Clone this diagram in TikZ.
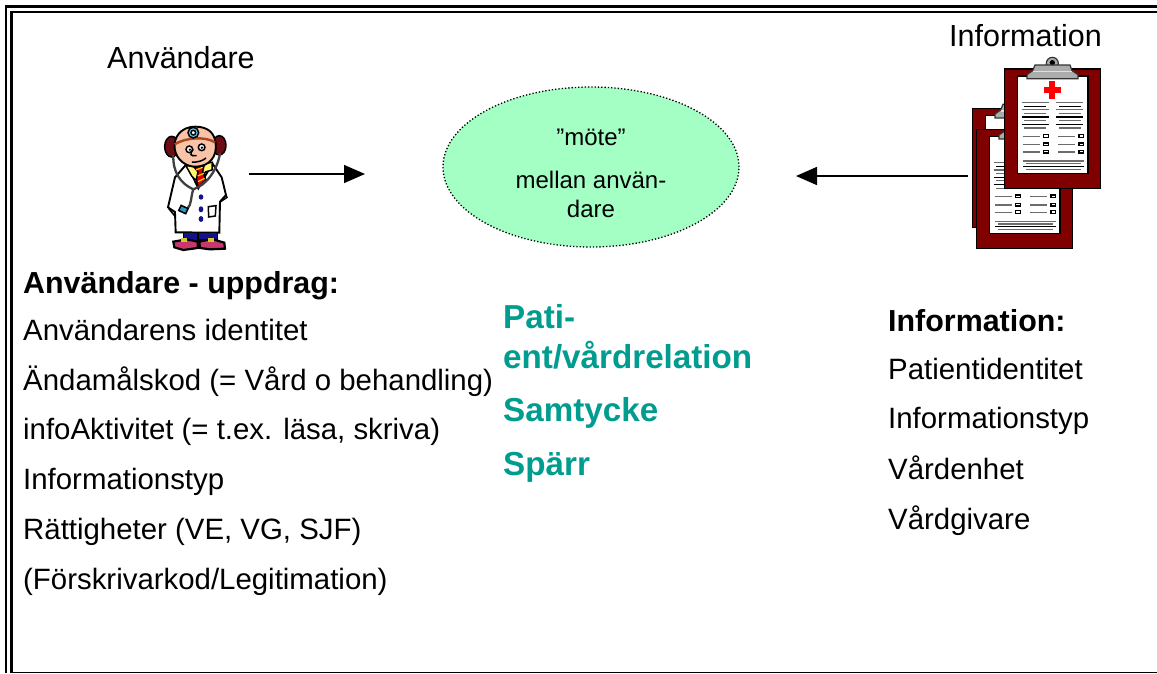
\documentclass[tikz,border=0pt]{standalone}
\usepackage{fontspec}
\setmainfont{Liberation Sans}
\usetikzlibrary{arrows.meta,shapes.geometric}
\definecolor{teal1}{HTML}{009C8F}
\definecolor{mint}{HTML}{A3FFC4}
\definecolor{board}{HTML}{800000}
\definecolor{skin}{HTML}{F9C3A8}
\definecolor{earred}{HTML}{6E0C14}
\definecolor{shoe}{HTML}{C8386E}
\definecolor{band}{HTML}{A8481C}
\definecolor{navy1}{HTML}{12128C}
\tikzset{
 lab/.style={anchor=base west,inner sep=0pt,font=\fontsize{29.4}{32}\selectfont},
 labb/.style={lab,font=\fontsize{30.4}{33}\selectfont\bfseries},
 title/.style={anchor=base west,inner sep=0pt,font=\fontsize{30.5}{33}\selectfont},
 mid/.style={anchor=base,inner sep=0pt,font=\fontsize{24}{26}\selectfont},
 tl/.style={anchor=base west,inner sep=0pt,text=teal1,font=\fontsize{33.2}{36}\selectfont\bfseries},
 conn/.style={draw=black,line width=1.5pt,-{Triangle[length=21pt,width=18pt]}},
 frameline/.style={draw=black,line width=2.4pt},
 gl/.style={draw=gray!85!black,line width=1.4pt},
 kl/.style={draw=black,line width=1.4pt},
 olin/.style={draw=black,line width=1.5pt}
}
\newcommand{\clipboard}[2]{%
 \begin{scope}[shift={(#1,#2)}]
  \filldraw[fill=board,draw=black,line width=1.2pt] (163,87) rectangle (452,445);
  \filldraw[fill=white,draw=black,line width=1.2pt] (203,108) rectangle (414,400);
  \filldraw[fill=gray!65,draw=black!80,line width=1.2pt] (307,70) circle (18);
  \fill[black] (307,68) circle (8);
  \filldraw[fill=gray!65,draw=black!80,line width=1.2pt] (255,75) -- (360,75) -- (366,92) -- (384,104) -- (384,116) -- (231,116) -- (231,104) -- (248,92) -- cycle;
  \fill[gray!25] (248,93) rectangle (366,97);
  \fill[red] (298,124) rectangle (316,176);
  \fill[red] (281,141) rectangle (334,159);
  \foreach \y/\a/\b/\s in {187/215/297/gl,199/223/289/kl,209/215/297/gl,220/223/289/gl,231/215/297/kl,241/223/289/gl,253/215/297/kl,264/223/289/gl}{
    \draw[\s] (\a,\y) -- (\b,\y);
    \draw[\s] (\a+103,\y) -- (\b+103,\y);
  }
  \foreach \y in {289,314,336}{
    \draw[gl] (218,\y) -- (270,\y);
    \draw[gl] (324,\y) -- (376,\y);
    \draw[kl,fill=white] (281,\y-5) rectangle (295,\y+3);
    \draw[kl,fill=white] (387,\y-5) rectangle (401,\y+3);
  }
  \draw[gl] (220,363) -- (403,363);
  \draw[gl] (228,371) -- (394,371);
  \draw[kl] (220,379) -- (403,379);
  \draw[gl] (228,388) -- (394,388);
 \end{scope}}
\begin{document}
\begin{tikzpicture}[x=1pt,y=-1pt]
\useasboundingbox (0,0) rectangle (1157,673);
\fill[white] (0,0) rectangle (1157,673);
% frame
\draw[frameline] (6,673) -- (6,6.5) -- (1157,6.5);
\draw[frameline] (11.5,673) -- (11.5,12) -- (1157,12);
\draw[black,line width=1.4pt] (11.5,672.2) -- (1157,672.2);
% doctor
\begin{scope}[shift={(130,90)},x=0.3333pt,y=-0.3333pt]
  \filldraw[fill=earred,olin] (125,170) ellipse[x radius=21,y radius=31];
  \filldraw[fill=earred,olin] (268,166) ellipse[x radius=20,y radius=29];
  % coat
  \filldraw[fill=skin,olin] (118,358) -- (136,380) -- (140,352) -- cycle;
  \filldraw[fill=skin,olin] (268,338) -- (291,322) -- (284,308) -- cycle;
  \filldraw[fill=white,olin,line width=1.9pt] (170,222) -- (135,262) -- (114,352) -- (135,366) -- (137,427) -- (268,428) -- (270,335) -- (288,315) -- (275,262) -- (247,220) -- (205,295) -- cycle;
  % collar and tie
  \filldraw[fill=yellow!55,olin] (168,228) -- (247,217) -- (246,240) -- (226,246) -- (215,270) -- (195,268) -- (185,258) -- cycle;
  \filldraw[fill=red!85!black,olin] (193,232) -- (222,228) -- (218,245) -- (228,270) -- (205,293) -- (199,268) -- (204,246) -- cycle;
  \draw[yellow!70!orange,line width=1.2pt] (198,240) -- (218,232) (203,258) -- (222,250) (204,275) -- (224,265);
  % head
  \filldraw[fill=skin,olin,line width=1.9pt] (196,110) .. controls (150,110) and (130,145) .. (134,175) .. controls (138,210) and (170,232) .. (200,230) .. controls (238,228) and (262,200) .. (257,160) .. controls (254,130) and (235,110) .. (196,110) -- cycle;
  \draw[draw=band,line width=2.4pt] (134,163) .. controls (165,143) and (225,138) .. (255,157);
  \filldraw[fill=cyan!65,olin] (190,128) circle (16);
  \filldraw[fill=white,olin] (190,128) circle (7);
  \filldraw[fill=white,olin] (178,178) circle (10);
  \filldraw[fill=white,olin] (215,172) circle (10);
  \fill (180,179) circle (4);
  \fill (216,173) circle (4);
  \draw[olin] (190,178) .. controls (176,192) and (182,200) .. (200,197);
  \draw[olin] (186,216) .. controls (200,218) and (220,212) .. (228,204);
  % stethoscope
  \draw[draw=black!75,line width=2.3pt] (130,195) .. controls (128,245) and (150,280) .. (190,298) .. controls (182,320) and (185,345) .. (172,356);
  \draw[draw=black!75,line width=2.3pt] (270,190) .. controls (262,240) and (230,285) .. (190,298);
  \filldraw[fill=cyan!60!teal,olin,rotate around={-25:(160,358)}] (149,350) rectangle (172,367);
  % buttons and pocket
  \fill[navy1] (213,321) ellipse[x radius=7,y radius=8];
  \fill[navy1] (213,358) ellipse[x radius=7,y radius=9];
  \fill[navy1] (213,387) ellipse[x radius=7,y radius=9];
  \draw[olin] (235,350) -- (258,347) -- (256,378) -- (236,381) -- cycle;
  % trousers and shoes
  \filldraw[fill=navy1,olin] (160,428) rectangle (202,452);
  \filldraw[fill=navy1,olin] (205,428) rectangle (262,450);
  \filldraw[fill=shoe,olin,line width=2.2pt] (130,455) -- (170,448) -- (203,455) -- (203,474) -- (160,480) -- (133,472) -- cycle;
  \filldraw[fill=shoe,olin,line width=2.2pt] (208,455) -- (245,447) -- (283,458) -- (285,476) -- (240,478) -- (210,474) -- cycle;
  \fill[yellow!80!black] (152,443) rectangle (172,456);
  \fill[yellow!80!black] (234,443) rectangle (252,456);
\end{scope}
% clipboards
\begin{scope}[shift={(950,40)},x=0.3333pt,y=-0.3333pt]
  \clipboard{-96}{118}
  \clipboard{-84}{181}
  \clipboard{0}{0}
\end{scope}
% ellipse
\node[draw=black,fill=mint,dotted,line width=1.3pt,ellipse,minimum width=296pt,minimum height=160pt,inner sep=0pt] (moete) at (591,167) {};
\node[mid] (m1) at (591,145) {”möte”};
\node[mid] (m2) at (591,188) {mellan använ-};
\node[mid] (m3) at (591,217) {dare};
% titles
\node[title] (anv) at (107,68) {Användare};
\node[title] (inf) at (949,46) {Information};
% left
\node[labb] (l0) at (23,293) {Användare - uppdrag:};
\node[lab] (l1) at (23,340) {Användarens identitet};
\node[lab] (l2) at (23,390) {Ändamålskod (= Vård o behandling)};
\node[lab] (l3) at (23,439) {infoAktivitet (= t.ex. läsa, skriva)};
\node[lab] (l4) at (23,489) {Informationstyp};
\node[lab] (l5) at (23,539) {Rättigheter (VE, VG, SJF)};
\node[lab] (l6) at (23,589) {(Förskrivarkod/Legitimation)};
% middle
\node[tl] (t1) at (503,328) {Pati-};
\node[tl] (t2) at (503,368) {ent/vårdrelation};
\node[tl] (t3) at (503,421) {Samtycke};
\node[tl] (t4) at (503,475) {Spärr};
% right
\node[labb] (r0) at (888,331) {Information:};
\node[lab] (r1) at (888,379) {Patientidentitet};
\node[lab] (r2) at (888,428) {Informationstyp};
\node[lab] (r3) at (888,479) {Vårdenhet};
\node[lab] (r4) at (888,529) {Vårdgivare};
% arrows
\coordinate (a1s) at (249,174);
\coordinate (a1e) at (365,174);
\coordinate (a2s) at (968,176);
\coordinate (a2e) at (796,176);
\draw[conn] (a1s) -- (a1e);
\draw[conn] (a2s) -- (a2e);
\end{tikzpicture}
\end{document}
